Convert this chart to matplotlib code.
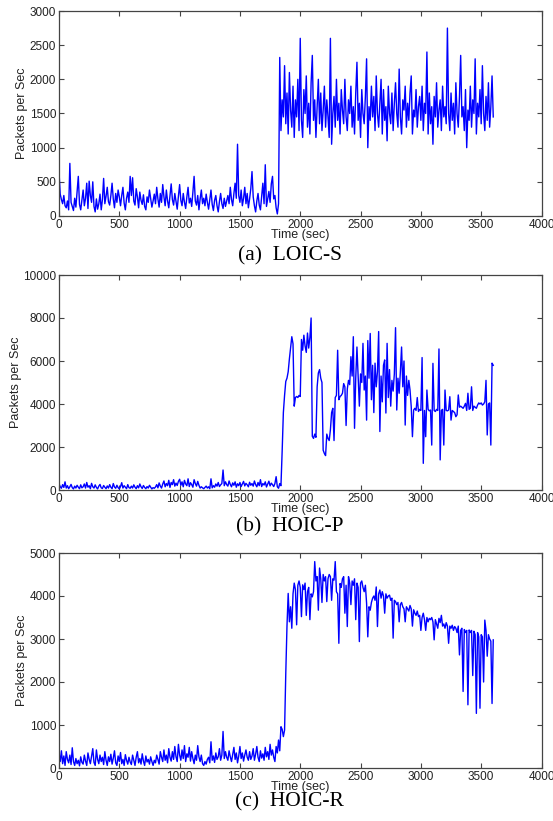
import matplotlib.pyplot as plt
import numpy as np

loic_s = [
    # 0 - 1820 s, before the attack
    650, 320, 240, 180, 300, 150, 120, 220, 90, 770, 200, 140, 80, 260, 130, 350, 580, 170, 90, 230,
    380, 150, 260, 480, 110, 510, 300, 200, 500, 140, 60, 250, 100, 180, 320, 90, 240, 550, 180, 290,
    420, 210, 160, 300, 480, 250, 120, 330, 200, 380, 280, 150, 300, 420, 190, 90, 260, 350, 200, 580,
    300, 560, 220, 160, 400, 280, 120, 350, 230, 170, 310, 140, 90, 280, 200, 380, 260, 130, 220, 320,
    180, 420, 250, 130, 330, 200, 460, 280, 150, 380, 220, 120, 300, 470, 240, 160, 330, 210, 100, 290,
    460, 230, 150, 330, 200, 110, 280, 420, 190, 260, 140, 350, 580, 220, 160, 300, 90, 250, 380, 180,
    260, 150, 320, 200, 100, 240, 380, 170, 80, 230, 300, 150, 60, 210, 330, 180, 110, 260, 140, 220,
    300, 180, 420, 240, 150, 330, 480, 260, 1050, 300, 200, 380, 150, 260, 420, 180, 330, 120, 250, 400,
    650, 280, 150, 60, 220, 330, 160, 90, 280, 480, 180, 750, 140, 250, 360, 200, 470, 580, 250, 300,
    120, 30, 180,
    # 1830 - 3600 s, under attack
    2320, 1250, 1700, 1450, 2200, 1350, 1800, 1200, 2100, 1550, 1300, 1900, 1150, 1700, 1450, 2000, 1250,
    2600, 1400, 1150, 1850, 1500, 2050, 1300, 1650, 1200, 1950, 2350, 1400, 1700, 1150, 1600, 2000, 1350, 1800, 1250, 1550,
    1900, 1300, 1700, 1450, 1150, 2600, 1050, 1500, 1750, 1300, 2000, 1400, 1650, 1200, 1850, 1550, 1350, 2000, 1450, 1250,
    1700, 1500, 1900, 1300, 1600, 1200, 1800, 2250, 1400, 1650, 1150, 1850, 1500, 1350, 1750, 2300, 1000, 1600, 1400, 1900,
    1450, 1750, 1250, 2050, 1500, 1300, 1650, 2000, 1200, 1850, 1400, 1600, 1100, 1900, 1500, 1350, 1800, 1250, 1650, 1950,
    1500, 1300, 2150, 1450, 1200, 1700, 1550, 1900, 1300, 1650, 1400, 1800, 2050, 1200, 1550, 1450, 1850, 1300, 1600, 1750,
    1400, 1900, 1250, 1650, 1500, 2400, 1200, 1800, 1350, 1600, 1050, 1750, 1450, 1950, 1300, 1550, 1700, 1250, 1900, 1450,
    1600, 1350, 2750, 1500, 1250, 1800, 1400, 1650, 1200, 1950, 1500, 1300, 1750, 2350, 1450, 1600, 1250, 1850, 1000, 1550,
    1400, 1900, 1300, 1700, 1500, 2300, 1200, 1650, 1450, 1850, 1350, 2200, 1500, 1250, 1750, 1400, 1950, 1300, 1600, 2050,
    1450,
]

hoic_p = [
    300, 150, 80, 250, 120, 380, 90, 200, 60, 150, 260, 110, 50, 180, 90, 220, 130, 60, 240, 100,
    150, 280, 90, 350, 130, 200, 60, 310, 150, 90, 240, 120, 50, 180, 260, 100, 70, 210, 130, 60,
    190, 90, 250, 130, 60, 300, 140, 80, 220, 110, 50, 160, 340, 90, 200, 130, 60, 250, 110, 80,
    180, 90, 240, 130, 60, 200, 100, 280, 150, 70, 210, 120, 60, 160, 90, 220, 130, 50, 110, 80,
    140, 250, 100, 330, 180, 90, 280, 420, 150, 300, 200, 450, 120, 350, 250, 480, 180, 320, 210, 400,
    500, 220, 380, 150, 450, 280, 200, 520, 160, 340, 250, 130, 480, 300, 180, 400, 220, 90, 150, 100,
    60, 120, 180, 90, 150, 60, 520, 100, 200, 130, 280, 180, 350, 160, 240, 300, 930, 200, 380, 250,
    180, 420, 260, 150, 330, 220, 380, 130, 290, 200, 350, 160, 280, 400, 190, 310, 240, 150, 360, 220,
    300, 180, 420, 250, 150, 350, 200, 480, 160, 300, 230, 380, 140, 270, 410, 190, 320, 250, 160, 300,
    620, 150, 80, 300, 200,
    1800, 3600, 4400, 5050, 5200, 5500, 6100, 6600, 7130, 6800,
    3900, 4300, 4350, 4300, 4400, 4350, 7000, 6500, 7200, 6700,
    6400, 7300, 6600, 7100, 8000, 2500, 2400, 2600, 2450, 4800,
    5440, 5600, 5200, 5000, 1850, 1700, 1600, 2600, 2400, 2300,
    2800, 3600, 3800, 2300, 4300, 4400, 6500, 4200, 4350, 4400,
    4500, 4950, 4800, 3000, 4700, 5100, 4900, 6200, 5300, 7130,
    2870, 5200, 6650, 5300, 3900, 5400, 5000, 6820, 4650, 5300,
    3250, 6950, 5200, 7280, 4200, 5800, 3600, 5900, 4800, 5500,
    7370, 2720, 5300, 4100, 5800, 6050, 3580, 6820, 4300, 5600,
    3900, 5100, 4600, 5400, 7550, 3720, 5200, 4500, 5500, 6650,
    4800, 6000, 3020, 5300, 4400, 5100, 4650, 3880, 2480, 3720,
    3800, 3700, 4300, 3650, 3750, 3700, 6160, 1240, 3700, 2480,
    4650, 3750, 3680, 3720, 2090, 5890, 3700, 3650, 3750, 3700,
    6560, 1400, 3700, 3750, 2090, 4650, 3700, 3680, 3720, 4340,
    3250, 3700, 3650, 3600, 3410, 3500, 4420, 3850, 3900, 3850,
    3800, 3900, 4030, 3700, 4500, 3750, 3800, 4800, 3700, 3900,
    3850, 3800, 3950, 4050, 4000, 4050, 3950, 4000, 4100, 5100,
    2560, 4000, 4050, 2090, 5900, 5800,
]

hoic_r = [
    350, 150, 400, 100, 280, 60, 380, 200, 120, 300, 80, 470, 150, 60, 220, 100, 180, 50, 260, 130,
    90, 300, 160, 60, 350, 200, 100, 280, 450, 130, 60, 420, 200, 100, 300, 150, 250, 80, 380, 180,
    60, 260, 150, 320, 90, 230, 400, 120, 60, 280, 150, 360, 100, 200, 60, 310, 180, 90, 250, 140,
    80, 300, 180, 60, 250, 380, 120, 220, 90, 330, 160, 60, 280, 140, 200, 90, 260, 150, 60, 180,
    120, 300, 200, 90, 380, 250, 150, 420, 180, 300, 120, 450, 250, 160, 380, 200, 500, 260, 150, 550,
    300, 180, 420, 220, 520, 150, 330, 250, 480, 160, 380, 220, 100, 300, 180, 520, 260, 150, 300, 100,
    60, 150, 90, 200, 250, 120, 610, 180, 280, 130, 350, 200, 260, 450, 180, 300, 850, 220, 380, 250,
    180, 400, 260, 150, 320, 480, 200, 350, 120, 280, 500, 220, 350, 160, 300, 420, 250, 180, 380, 200,
    280, 450, 180, 320, 500, 250, 150, 400, 230, 330, 180, 480, 260, 380, 200, 550, 300, 420, 250, 150,
    500, 350, 650, 400, 960,
    900, 730, 880, 2200, 3300, 4060, 3400, 3750, 3250, 4050,
    4300, 4150, 3330, 4250, 4350, 4200, 3520, 4260, 4150, 4300,
    3550, 4100, 4200, 3450, 4050, 3980, 4100, 4800, 4350, 4450,
    3670, 4650, 4400, 3850, 4500, 4350, 4450, 3870, 4400, 4500,
    4450, 3900, 4400, 4370, 4800, 4100, 4050, 2900, 4290, 4200,
    4400, 4450, 3600, 4250, 3290, 4450, 4300, 3800, 4350, 4250,
    4400, 3450, 4300, 4200, 2940, 4300, 4350, 4200, 4100, 4250,
    3830, 3050, 3750, 3670, 3850, 3950, 4000, 3900, 4210, 3290,
    4050, 4140, 3950, 4100, 4000, 3600, 4050, 3950, 4000, 4020,
    3900, 3950, 3020, 3900, 3870, 3800, 3850, 3400, 3800, 3850,
    3750, 3700, 3400, 3750, 3700, 3650, 3780, 3700, 3300, 3680,
    3600, 3550, 3650, 3520, 3550, 3200, 3500, 3600, 3450, 3200,
    3500, 3400, 3480, 3450, 3500, 3400, 2980, 3450, 3350, 3250,
    3480, 3380, 3550, 3300, 3350, 3250, 3380, 3300, 2900, 3300,
    3250, 3320, 3200, 3290, 3250, 3150, 3300, 2630, 3200, 3250,
    1780, 3220, 3150, 3200, 1470, 3210, 3150, 3200, 2150, 3180,
    3100, 1270, 3150, 3050, 1390, 3100, 3050, 2000, 3440, 3200,
    2600, 3100, 3000, 2950, 1500, 2980,
]

panels = [
    (loic_s, 3000, 500, '(a)  LOIC-S'),
    (hoic_p, 10000, 2000, '(b)  HOIC-P'),
    (hoic_r, 5000, 1000, '(c)  HOIC-R'),
]

# axes boxes in pixels: (top, bottom), and caption centre y
boxes = [(11, 216, 256), (275, 490, 527), (553, 768, 802)]

W, H = 553, 821
fig = plt.figure(figsize=(W / 100, H / 100), dpi=100)
plt.rcParams['font.family'] = 'Liberation Sans'

left, right = 59, 541.5
for (vals, ymax, ystep, caption), (top, bot, cap_y) in zip(panels, boxes):
    ax = fig.add_axes([left / W, 1 - bot / H, (right - left) / W, (bot - top) / H])
    t = np.arange(len(vals)) * 10
    ax.plot(t, vals, color='#0000ff', lw=1.0)
    ax.set_xlim(0, 4000)
    ax.set_ylim(0, ymax)
    ax.set_xticks(np.arange(0, 4001, 500))
    ax.set_yticks(np.arange(0, ymax + 1, ystep))
    ax.tick_params(direction='in', top=True, right=True, length=3.5, width=0.8,
                   labelsize=8.5, color='#444444', labelcolor='#222222', pad=2)
    for s in ax.spines.values():
        s.set_color('#444444')
        s.set_linewidth(0.9)
    ax.set_xlabel('Time (sec)', fontsize=9, color='#222222', labelpad=-1)
    ax.set_ylabel('Packets per Sec', fontsize=9, color='#222222', labelpad=1)
    fig.text(289.5 / W, 1 - cap_y / H, caption, ha='center', va='center',
             fontsize=15.5, family='Liberation Serif')

fig.savefig('out.png', dpi=100)
